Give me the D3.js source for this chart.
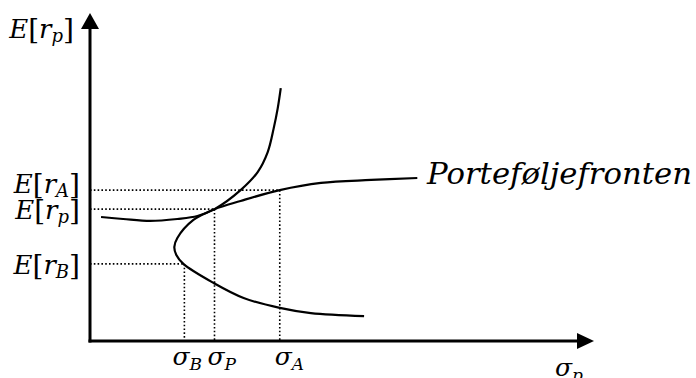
<!DOCTYPE html>
<html>
<head>
<meta charset="utf-8">
<script src="https://cdn.jsdelivr.net/npm/d3@7"></script>
<style>
  body { margin: 0; background: #fff; }
  svg { display: block; }
</style>
</head>
<body>
<div id="chart"></div>
<script>
// values (sigma on x, expected return on y, 0-100 units)
var frontier = [
  [54.6, 7.6], [44.0, 8.5], [37.8, 10.1], [30.6, 13.1], [24.6, 17.7],
  [18.6, 23.5], [17.2, 26.2], [16.8, 28.7], [17.4, 31.4], [20.6, 36.9],
  [24.8, 40.2], [30.0, 42.7], [37.8, 46.0], [46.0, 48.2], [56.0, 49.1], [65.2, 49.7]
];
var indifference = [
  [2.2, 37.8], [6.6, 37.2], [12.0, 36.6], [17.4, 37.2], [21.4, 38.1],
  [24.8, 40.2], [30.0, 46.0], [33.4, 51.5], [35.4, 57.6], [36.6, 64.9],
  [37.4, 71.0], [38.0, 77.1]
];
// horizontal guides (return levels) and vertical guides (sigma levels)
var returnSubs = ["A", "p", "B"];
var returnVals = [46.0, 40.2, 23.5];
var sigmaSubs = ["B", "P", "A"];
var sigmaVals = [18.8, 24.8, 37.8];
var frontierLabel = "Porteføljefronten";

var W = 696, H = 378;
var margin = {top: 13, right: 104, bottom: 37, left: 90};
var font = "'DejaVu Serif', 'Liberation Serif', serif";

var svg = d3.select("#chart").append("svg")
    .attr("width", W)
    .attr("height", H);

var x = d3.scaleLinear().domain([0, 100]).range([margin.left, W - margin.right]);
var y = d3.scaleLinear().domain([0, 100]).range([H - margin.bottom, margin.top]);

// dotted guide lines
returnVals.forEach(function(v, i) {
  var s = sigmaVals[2 - i];
  svg.append("line")
    .attr("x1", x(0)).attr("x2", x(s))
    .attr("y1", y(v)).attr("y2", y(v))
    .attr("stroke", "#000").attr("stroke-width", 1.6)
    .attr("stroke-dasharray", "1.6,2.2");
});
sigmaVals.forEach(function(s, i) {
  var v = returnVals[2 - i];
  svg.append("line")
    .attr("x1", x(s)).attr("x2", x(s))
    .attr("y1", y(v)).attr("y2", y(0))
    .attr("stroke", "#000").attr("stroke-width", 1.6)
    .attr("stroke-dasharray", "1.6,2.2");
});

// curves
var line = d3.line()
    .x(function(d) { return x(d[0]); })
    .y(function(d) { return y(d[1]); })
    .curve(d3.curveCatmullRom.alpha(0.5));

svg.append("path").datum(frontier)
  .attr("d", line).attr("fill", "none")
  .attr("stroke", "#000").attr("stroke-width", 2.2);
svg.append("path").datum(indifference)
  .attr("d", line).attr("fill", "none")
  .attr("stroke", "#000").attr("stroke-width", 2.2);

// axes with arrowheads
svg.append("line")
  .attr("x1", x(0)).attr("x2", x(0))
  .attr("y1", y(0) + 1.5).attr("y2", y(100) + 14)
  .attr("stroke", "#000").attr("stroke-width", 3);
svg.append("path")
  .attr("d", "M" + x(0) + "," + y(100) + "L" + (x(0) - 9) + "," + (y(100) + 16) + "L" + (x(0) + 9) + "," + (y(100) + 16) + "Z")
  .attr("fill", "#000");
svg.append("line")
  .attr("x1", x(0) - 1.5).attr("x2", x(100) - 14)
  .attr("y1", y(0)).attr("y2", y(0))
  .attr("stroke", "#000").attr("stroke-width", 3);
svg.append("path")
  .attr("d", "M" + (x(100) + 2) + "," + y(0) + "L" + (x(100) - 15) + "," + (y(0) - 8) + "L" + (x(100) - 15) + "," + (y(0) + 8) + "Z")
  .attr("fill", "#000");

// E[r_x] style label
function eLabel(xp, yp, sub) {
  var t = svg.append("text")
    .attr("x", xp).attr("y", yp)
    .attr("text-anchor", "end")
    .attr("font-family", font).attr("font-size", 26);
  t.append("tspan").attr("font-style", "italic").text("E");
  t.append("tspan").attr("font-size", 28).attr("dy", 1).text("[");
  t.append("tspan").attr("font-style", "italic").attr("dy", -1).text("r");
  t.append("tspan").attr("font-style", "italic").attr("font-size", 18).attr("dy", 4).text(sub);
  t.append("tspan").attr("font-size", 28).attr("dy", -3).text("]");
}
function sLabel(xp, yp, sub) {
  var t = svg.append("text")
    .attr("x", xp).attr("y", yp)
    .attr("font-family", font).attr("font-size", 25);
  t.append("tspan").attr("font-style", "italic").text("σ");
  t.append("tspan").attr("font-style", "italic").attr("font-size", 17).attr("dy", 5).text(sub);
}

eLabel(74, 38, "p");
var eOff = [3, 10, 10];
returnVals.forEach(function(v, i) {
  eLabel(80, y(v) + eOff[i], returnSubs[i]);
});
var sOff = [-12, -7, -5];
sigmaVals.forEach(function(s, i) {
  sLabel(x(s) + sOff[i], 365, sigmaSubs[i]);
});
sLabel(555, 376, "p");

svg.append("text")
  .attr("x", 427).attr("y", 184)
  .attr("font-family", font).attr("font-size", 29)
  .attr("font-style", "italic")
  .attr("textLength", 265).attr("lengthAdjust", "spacingAndGlyphs")
  .text(frontierLabel);
</script>
</body>
</html>
